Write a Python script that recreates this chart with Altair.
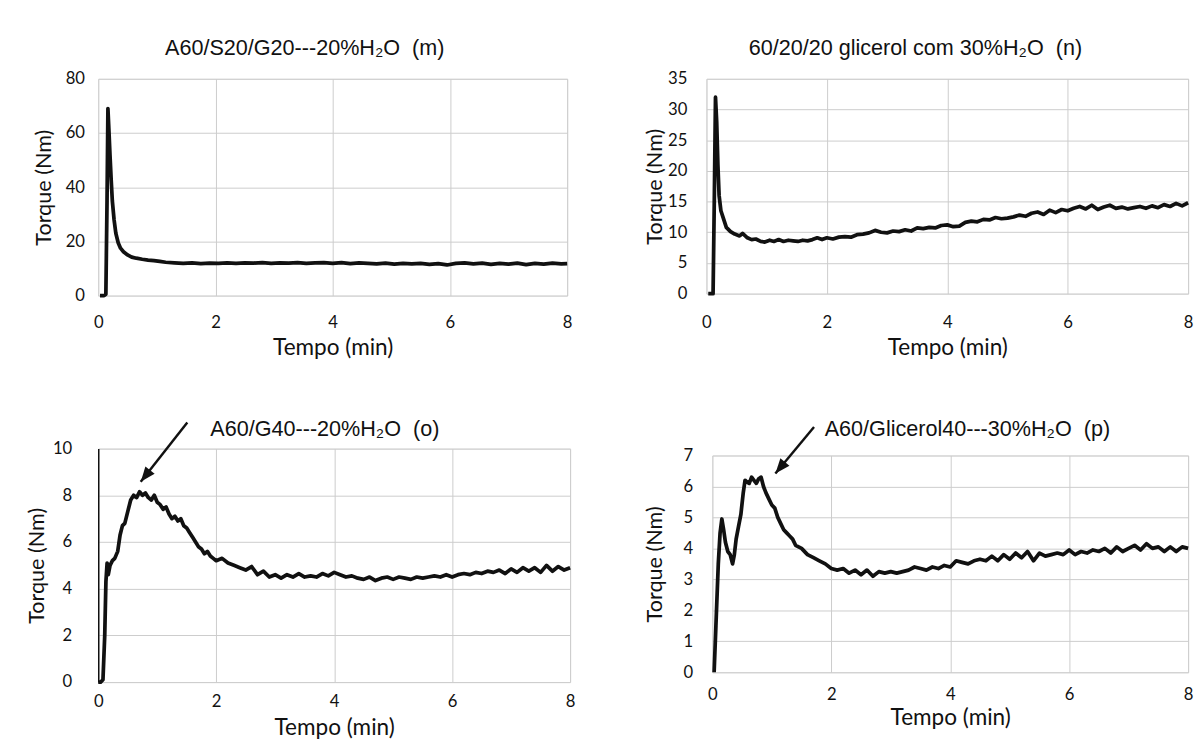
import altair as alt
import pandas as pd

# ---------------- data ----------------
m_t = [0.03, 0.06, 0.10, 0.13, 0.15, 0.165, 0.18, 0.20, 0.22, 0.24, 0.27, 0.30, 0.34, 0.38, 0.43,
       0.50, 0.57, 0.65, 0.75, 0.85, 0.95, 1.05, 1.15, 1.30, 1.45, 1.60, 1.75, 1.90, 2.05, 2.20,
       2.35, 2.50, 2.65, 2.80, 2.95, 3.10, 3.25, 3.40, 3.55, 3.70, 3.85, 4.00, 4.15, 4.30, 4.45,
       4.60, 4.75, 4.90, 5.05, 5.20, 5.35, 5.50, 5.65, 5.80, 5.95, 6.10, 6.25, 6.40, 6.55, 6.70,
       6.85, 7.00, 7.15, 7.30, 7.45, 7.60, 7.75, 7.90, 8.00]
m_v = [0, 0, 0, 0.5, 35, 69, 62, 52, 43, 35, 28, 23, 19.5, 17.5, 16.2,
       15.0, 14.2, 13.8, 13.4, 13.1, 12.9, 12.6, 12.3, 12.1, 11.9, 12.1, 11.8, 12.0, 11.9, 12.1,
       11.9, 12.1, 12.0, 12.2, 11.9, 12.1, 12.0, 12.2, 11.9, 12.1, 12.2, 11.9, 12.2, 11.8, 12.1,
       11.9, 11.7, 12.0, 11.6, 11.9, 11.7, 11.9, 11.5, 11.8, 11.3, 11.9, 12.1, 11.7, 12.0, 11.5,
       11.9, 11.6, 12.0, 11.4, 11.9, 11.6, 12.0, 11.7, 11.8]

n_t = [0.03, 0.07, 0.11, 0.13, 0.15, 0.17, 0.19, 0.21, 0.24, 0.28, 0.33, 0.40, 0.47, 0.55, 0.60,
       0.68, 0.75, 0.82, 0.90, 0.97, 1.05, 1.12, 1.20, 1.28, 1.36, 1.44, 1.52, 1.60, 1.68, 1.76,
       1.84, 1.92, 2.0, 2.1, 2.2, 2.3, 2.4, 2.5, 2.6, 2.7, 2.8, 2.9, 3.0, 3.1, 3.2, 3.3, 3.4, 3.5,
       3.6, 3.7, 3.8, 3.9, 4.0, 4.1, 4.2, 4.3, 4.4, 4.5, 4.6, 4.7, 4.8, 4.9, 5.0, 5.1, 5.2, 5.3,
       5.4, 5.5, 5.6, 5.7, 5.8, 5.9, 6.0, 6.1, 6.2, 6.3, 6.4, 6.5, 6.6, 6.7, 6.8, 6.9, 7.0, 7.1,
       7.2, 7.3, 7.4, 7.5, 7.6, 7.7, 7.8, 7.9, 8.0]
n_v = [0, 0, 0, 15, 32, 28, 21, 16, 13.5, 12.3, 10.8, 10.1, 9.7, 9.4, 9.8,
       9.1, 8.8, 8.9, 8.5, 8.4, 8.7, 8.5, 8.8, 8.5, 8.7, 8.6, 8.5, 8.7, 8.6, 8.8,
       9.1, 8.8, 9.1, 8.9, 9.2, 9.3, 9.2, 9.6, 9.7, 9.9, 10.3, 10.0, 9.9, 10.2, 10.1, 10.4, 10.2, 10.7,
       10.6, 10.8, 10.7, 11.1, 11.2, 10.9, 11.0, 11.6, 11.8, 11.7, 12.1, 12.0, 12.4, 12.2, 12.3, 12.5, 12.8, 12.6,
       13.1, 13.3, 12.9, 13.6, 13.2, 13.7, 13.5, 13.9, 14.2, 13.8, 14.4, 13.7, 14.1, 14.4, 13.9, 14.1, 13.8, 14.0,
       14.2, 13.9, 14.3, 14.0, 14.5, 14.2, 14.7, 14.3, 14.8]

o_t = [0.0, 0.04, 0.08, 0.11, 0.13, 0.15, 0.17, 0.20, 0.24, 0.28, 0.33, 0.37, 0.41, 0.45, 0.50,
       0.55, 0.60, 0.65, 0.70, 0.75, 0.80, 0.85, 0.90, 0.95, 1.00, 1.05, 1.10, 1.15, 1.20, 1.25,
       1.30, 1.35, 1.40, 1.45, 1.50, 1.55, 1.60, 1.65, 1.70, 1.75, 1.80, 1.85, 1.90, 1.95, 2.0,
       2.1, 2.2, 2.3, 2.4, 2.5, 2.6, 2.7, 2.8, 2.9, 3.0, 3.1, 3.2, 3.3, 3.4, 3.5, 3.6, 3.7, 3.8,
       3.9, 4.0, 4.1, 4.2, 4.3, 4.4, 4.5, 4.6, 4.7, 4.8, 4.9, 5.0, 5.1, 5.2, 5.3, 5.4, 5.5, 5.6,
       5.7, 5.8, 5.9, 6.0, 6.1, 6.2, 6.3, 6.4, 6.5, 6.6, 6.7, 6.8, 6.9, 7.0, 7.1, 7.2, 7.3, 7.4,
       7.5, 7.6, 7.7, 7.8, 7.9, 8.0]
o_v = [0, 0, 0.1, 2.0, 4.3, 5.1, 4.6, 5.0, 5.2, 5.3, 5.6, 6.3, 6.7, 6.8, 7.3,
       7.8, 8.0, 7.9, 8.15, 8.0, 8.1, 7.9, 7.8, 8.0, 7.7, 7.6, 7.4, 7.5, 7.2, 7.0,
       7.1, 6.9, 7.0, 6.7, 6.6, 6.4, 6.2, 6.0, 5.8, 5.7, 5.5, 5.6, 5.4, 5.3, 5.2,
       5.3, 5.1, 5.0, 4.9, 4.8, 4.95, 4.6, 4.75, 4.5, 4.6, 4.45, 4.6, 4.5, 4.65, 4.5, 4.55, 4.5, 4.65,
       4.55, 4.7, 4.6, 4.5, 4.55, 4.45, 4.4, 4.5, 4.35, 4.45, 4.5, 4.4, 4.5, 4.45, 4.4, 4.5, 4.45, 4.5,
       4.55, 4.5, 4.6, 4.5, 4.6, 4.65, 4.6, 4.7, 4.65, 4.75, 4.7, 4.8, 4.65, 4.85, 4.7, 4.9, 4.75, 4.9,
       4.7, 5.0, 4.75, 4.95, 4.8, 4.9]

p_t = [0.03, 0.06, 0.10, 0.13, 0.16, 0.19, 0.22, 0.26, 0.30, 0.34, 0.37, 0.40, 0.44, 0.48, 0.52,
       0.55, 0.58, 0.62, 0.66, 0.70, 0.74, 0.78, 0.82, 0.86, 0.90, 0.95, 1.00, 1.05, 1.10, 1.15,
       1.20, 1.25, 1.30, 1.35, 1.40, 1.5, 1.6, 1.7, 1.8, 1.9, 2.0, 2.1, 2.2, 2.3, 2.4, 2.5, 2.6,
       2.7, 2.8, 2.9, 3.0, 3.1, 3.2, 3.3, 3.4, 3.5, 3.6, 3.7, 3.8, 3.9, 4.0, 4.1, 4.2, 4.3, 4.4,
       4.5, 4.6, 4.7, 4.8, 4.9, 5.0, 5.1, 5.2, 5.3, 5.4, 5.5, 5.6, 5.7, 5.8, 5.9, 6.0, 6.1, 6.2,
       6.3, 6.4, 6.5, 6.6, 6.7, 6.8, 6.9, 7.0, 7.1, 7.2, 7.3, 7.4, 7.5, 7.6, 7.7, 7.8, 7.9, 8.0]
p_v = [0, 1.5, 3.5, 4.5, 4.95, 4.6, 4.2, 3.9, 3.8, 3.5, 3.8, 4.3, 4.7, 5.1, 5.8,
       6.2, 6.15, 6.1, 6.3, 6.2, 6.1, 6.25, 6.3, 6.0, 5.8, 5.6, 5.4, 5.3, 5.0, 4.8,
       4.6, 4.5, 4.4, 4.3, 4.1, 4.0, 3.8, 3.7, 3.6, 3.5, 3.35, 3.3, 3.35, 3.2, 3.3, 3.15, 3.3,
       3.1, 3.25, 3.2, 3.25, 3.2, 3.25, 3.3, 3.4, 3.35, 3.3, 3.4, 3.35, 3.45, 3.4, 3.6, 3.55, 3.5, 3.6,
       3.65, 3.6, 3.75, 3.6, 3.8, 3.65, 3.85, 3.7, 3.9, 3.6, 3.85, 3.75, 3.8, 3.85, 3.8, 3.95, 3.8, 3.9,
       3.85, 3.95, 3.9, 4.0, 3.85, 4.05, 3.9, 4.0, 4.1, 3.95, 4.15, 4.0, 4.05, 3.9, 4.05, 3.9, 4.05, 4.0]

titles = ["A60/S20/G20---20%H\u2082O\u00a0 (m)",
          "60/20/20 glicerol com 30%H\u2082O\u00a0 (n)",
          "A60/G40---20%H\u2082O\u00a0 (o)",
          "A60/Glicerol40---30%H\u2082O\u00a0 (p)"]

x_ticks = [0, 2, 4, 6, 8]
m_ticks = [0, 20, 40, 60, 80]
n_ticks = [0, 5, 10, 15, 20, 25, 30, 35]
o_ticks = [0, 2, 4, 6, 8, 10]
p_ticks = [0, 1, 2, 3, 4, 5, 6, 7]

# annotation arrows (start -> tip), in data units
o_arrow = {"x1": [1.51], "y1": [11.12], "x2": [0.72], "y2": [8.58]}
p_arrow = {"x1": [1.71], "y1": [7.92], "x2": [1.06], "y2": [6.42]}

# ---------------- styling ----------------
INK = "#111111"
GRID = "#cccccc"
NUM_FONT = "Lato"
TTL_FONT = "Liberation Sans"
HEAD = "M0,0L-0.75,1.9L0.75,1.9Z"


def panel(t, v, title, ticks, w, h, ylp, yext, ytp, xlp, xext, xtp,
          toff, tdx, ydom=False, arrow=None, head_angle=0):
    df = pd.DataFrame({"t": t, "v": v})
    xs = alt.Scale(domain=[0, 8], nice=False, zero=False)
    ys = alt.Scale(domain=[0, ticks[-1]], nice=False)
    xaxis = alt.Axis(values=x_ticks, title="Tempo (min)", grid=True, gridColor=GRID,
                     gridWidth=1, domain=False, ticks=False, labelPadding=xlp,
                     minExtent=xext, maxExtent=xext, titlePadding=xtp,
                     labelFont=NUM_FONT, labelFontSize=17, labelColor=INK,
                     titleFont=NUM_FONT, titleFontSize=23, titleFontWeight="normal",
                     titleColor=INK, labelFlush=False, labelOverlap=False)
    yaxis = alt.Axis(values=ticks, title="Torque (Nm)", grid=True, gridColor=GRID,
                     gridWidth=1, domain=ydom, domainColor=INK, domainWidth=1.5,
                     ticks=False, labelPadding=ylp,
                     minExtent=yext, maxExtent=yext, titlePadding=ytp,
                     labelFont=NUM_FONT, labelFontSize=17, labelColor=INK,
                     titleFont=NUM_FONT, titleFontSize=22, titleFontWeight="normal",
                     titleColor=INK, labelFlush=False, labelOverlap=False)
    line = alt.Chart(df).mark_line(color=INK, strokeWidth=3.8, strokeJoin="round").encode(
        x=alt.X("t:Q", scale=xs, axis=xaxis),
        y=alt.Y("v:Q", scale=ys, axis=yaxis),
    )
    layers = [line]
    if arrow is not None:
        adf = pd.DataFrame(arrow)
        rule = alt.Chart(adf).mark_rule(color=INK, strokeWidth=2.5).encode(
            x=alt.X("x1:Q", scale=xs, axis=xaxis),
            y=alt.Y("y1:Q", scale=ys, axis=yaxis),
            x2="x2:Q", y2="y2:Q")
        head = alt.Chart(adf).mark_point(shape=HEAD, size=256, filled=True, color=INK,
                                         opacity=1, strokeWidth=0, angle=head_angle).encode(
            x=alt.X("x2:Q", scale=xs, axis=xaxis),
            y=alt.Y("y2:Q", scale=ys, axis=yaxis))
        layers += [rule, head]
    return alt.layer(*layers).properties(
        width=w, height=h,
        title=alt.TitleParams(title, offset=toff, dx=tdx, frame="group", anchor="middle",
                              font=TTL_FONT, fontSize=22, fontWeight="normal", color=INK),
    )


pm = panel(m_t, m_v, titles[0], m_ticks, 478, 221, 14, 33, 11, 20, 36, 6, 10, -28.5)
pn = panel(n_t, n_v, titles[1], n_ticks, 491, 219, 20, 41, 0, 22, 36, 8, 10, -32.5)
po = panel(o_t, o_v, titles[2], o_ticks, 481, 238, 27, 46, 5, 12, 34, 1, -20, -9.5,
           ydom=True, arrow=o_arrow, head_angle=218.6)
pp = panel(p_t, p_v, titles[3], p_ticks, 485, 221, 20, 32, 15, 15, 34, 1, -15, 17.5,
           arrow=p_arrow, head_angle=219.7)

chart = alt.concat(pm, pn, po, pp, columns=2, align="none",
                   spacing={"row": 58, "column": 68}).properties(
    padding={"left": 17, "top": 22, "right": 0, "bottom": 0}
).configure_view(stroke=None).configure(background="white")

chart.save("out.html", embed_options={"renderer": "svg", "actions": False})
